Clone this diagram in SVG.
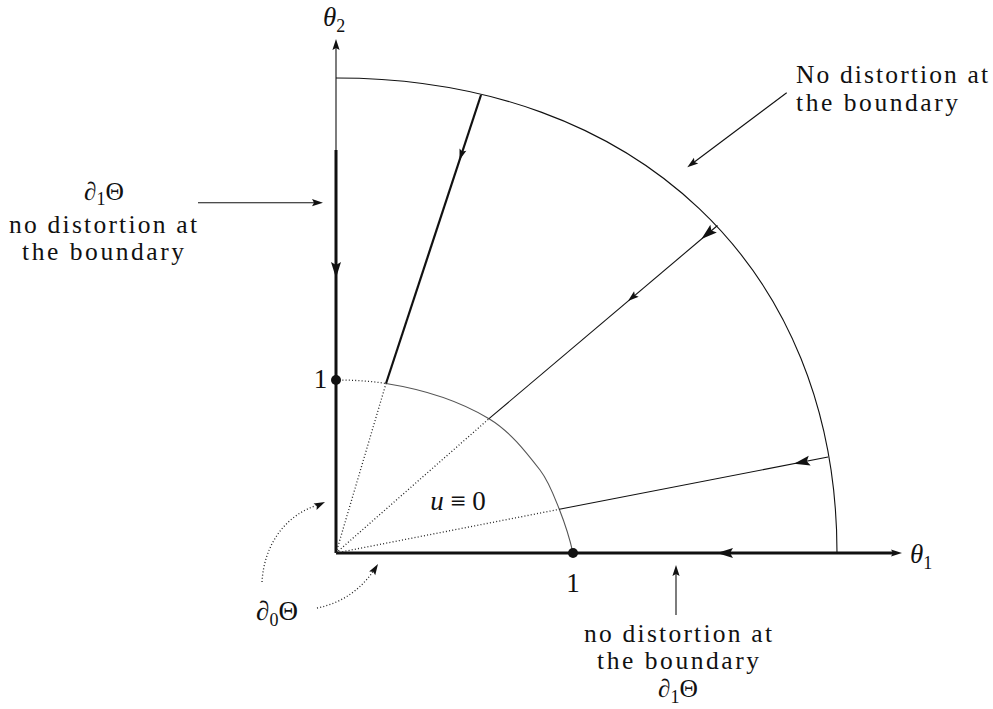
<svg xmlns="http://www.w3.org/2000/svg" width="993" height="709" viewBox="0 0 993 709">
<style>
text{font-family:'Liberation Serif',serif;font-size:27px;fill:#111}
.lbl{font-size:25.5px}
.it{font-style:italic}
.sub{font-size:18px;font-style:normal}
.thin{fill:none;stroke:#111;stroke-width:1.1}
.thick{fill:none;stroke:#111;stroke-width:3}
.bold{fill:none;stroke:#111;stroke-width:2.2}
.dot{fill:none;stroke:#222;stroke-width:1.3;stroke-dasharray:1 2.2}
.gray{fill:none;stroke:#555;stroke-width:1.1}
.ah{fill:#111}
</style>
<defs>
<path id="big" d="M0,0 L-16,-5 L-13,0 L-16,5 Z"/>
<path id="small" d="M0,0 L-11,-3.6 L-9,0 L-11,3.6 Z"/>
</defs>
<rect width="993" height="709" fill="#fff"/>

<g id="axes">
<line class="thick" x1="336" y1="553" x2="896" y2="553"/>
<line class="thin" x1="336" y1="45" x2="336" y2="152"/>
<line class="thick" x1="336" y1="150" x2="336" y2="553"/>
<use href="#small" class="ah" transform="translate(336,39) rotate(-90)"/>
<use href="#small" class="ah" transform="translate(902,553)"/>
<use href="#big" class="ah" transform="translate(336,278) rotate(90)"/>
<use href="#big" class="ah" transform="translate(717,553) rotate(180)"/>
</g>

<g id="outer-arc">
<path class="thin" d="M336,78 C636.6,78 837,268 837,553"/>
</g>

<g id="inner-arc">
<path class="dot" d="M336,380 C352.7,380 369.5,380.9 386,383.5"/>
<path class="gray" d="M386,383.5 C421.8,389.2 457.9,400 489,418.7 C509.7,431.1 525.2,451 540,470 C548.9,481.5 553.9,495.7 559.3,509.3 C564.9,523.5 569.6,538.1 573,553"/>
<circle cx="336" cy="380" r="5" fill="#111"/>
<circle cx="573" cy="553" r="5" fill="#111"/>
</g>

<g id="rays">
<line class="dot" x1="336" y1="553" x2="386" y2="383.5"/>
<line class="dot" x1="336" y1="553" x2="489" y2="418.7"/>
<line class="dot" x1="336" y1="553" x2="559.3" y2="509.3"/>
<line class="bold" x1="386" y1="383.5" x2="481" y2="95"/>
<line class="thin" x1="489" y1="418.7" x2="717.5" y2="225.5"/>
<line class="thin" x1="559.3" y1="509.3" x2="828" y2="457"/>
<use href="#small" class="ah" transform="translate(459.5,160) rotate(108.3)"/>
<use href="#big" class="ah" transform="translate(701.4,238.9) rotate(139.75)"/>
<use href="#small" class="ah" transform="translate(628,301) rotate(139.75)"/>
<use href="#big" class="ah" transform="translate(794,463.7) rotate(168.9)"/>
</g>

<g id="connectors">
<line class="thin" x1="198" y1="202.7" x2="318" y2="202.7"/>
<use href="#small" class="ah" transform="translate(323,202.7)"/>
<line class="thin" x1="786.7" y1="92.7" x2="691" y2="164.5"/>
<use href="#small" class="ah" transform="translate(687.3,167.3) rotate(143.1)"/>
<line class="thin" x1="676" y1="615" x2="676" y2="570"/>
<use href="#small" class="ah" transform="translate(676,565) rotate(-90)"/>
<path class="dot" d="M262,582 C264,545 285,515 318,505"/>
<use href="#small" class="ah" transform="translate(325,502) rotate(-25)"/>
<path class="dot" d="M317,608 C343,603 362,588 374,570"/>
<use href="#small" class="ah" transform="translate(378,564) rotate(-58)"/>
</g>

<g id="labels">
<text x="323" y="26" class="it">θ<tspan class="sub" dy="6">2</tspan></text>
<text x="910" y="563" class="it">θ<tspan class="sub" dy="6">1</tspan></text>
<text x="320.5" y="388" text-anchor="middle">1</text>
<text x="573" y="592" text-anchor="middle">1</text>
<text x="458" y="510" text-anchor="middle"><tspan class="it">u</tspan> ≡ 0</text>
<text x="277" y="620" text-anchor="middle">∂<tspan class="sub" dy="6">0</tspan><tspan dy="-6">Θ</tspan></text>
</g>

<g id="label-left">
<text x="104" y="200" text-anchor="middle" class="lbl">∂<tspan class="sub" dy="5">1</tspan><tspan dy="-5">Θ</tspan></text>
<text x="103" y="233" text-anchor="middle" class="lbl" textLength="188" lengthAdjust="spacing">no distortion at</text>
<text x="103" y="260" text-anchor="middle" class="lbl" textLength="162" lengthAdjust="spacing">the boundary</text>
</g>

<g id="label-top-right">
<text x="796" y="82.7" class="lbl" textLength="192" lengthAdjust="spacing">No distortion at</text>
<text x="796" y="110.7" class="lbl" textLength="162" lengthAdjust="spacing">the boundary</text>
</g>

<g id="label-bottom">
<text x="678" y="642" text-anchor="middle" class="lbl" textLength="188" lengthAdjust="spacing">no distortion at</text>
<text x="678" y="669" text-anchor="middle" class="lbl" textLength="162" lengthAdjust="spacing">the boundary</text>
<text x="678" y="697" text-anchor="middle" class="lbl">∂<tspan class="sub" dy="6">1</tspan><tspan dy="-6">Θ</tspan></text>
</g>
</svg>
